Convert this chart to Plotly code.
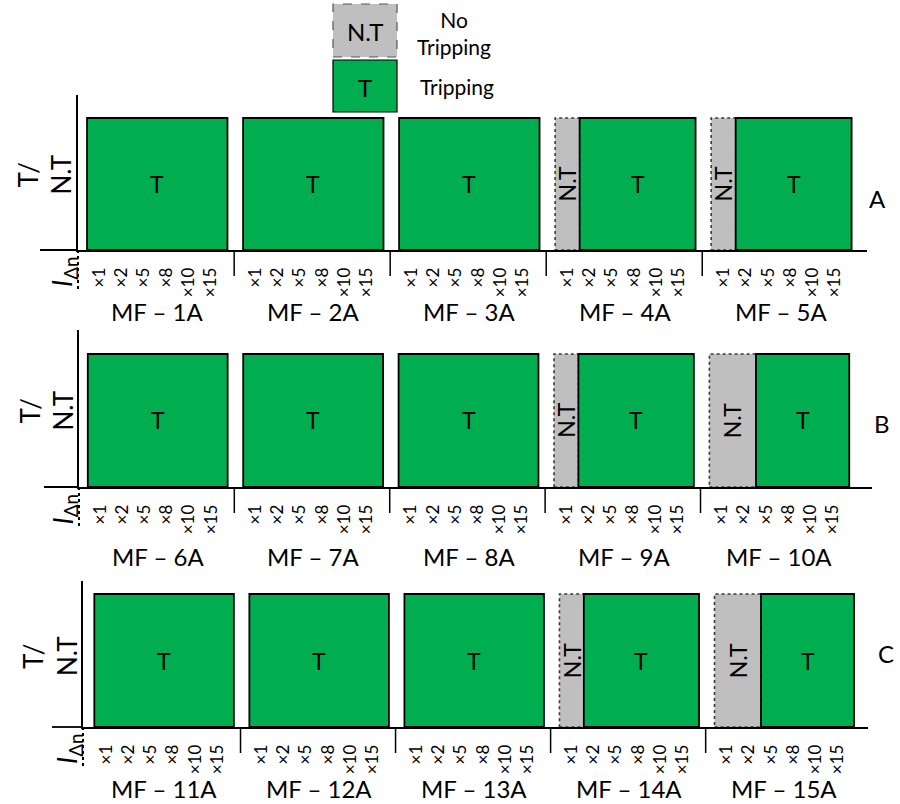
import plotly.graph_objects as go

W, H = 900, 804
FONT = "Lato"

# ---------------- data ----------------
multipliers = ["×1", "×2", "×5", "×8", "×10", "×15"]
panel_names = ["A", "B", "C"]

devices_A = ["MF – 1A", "MF – 2A", "MF – 3A", "MF – 4A", "MF – 5A"]
devices_B = ["MF – 6A", "MF – 7A", "MF – 8A", "MF – 9A", "MF – 10A"]
devices_C = ["MF – 11A", "MF – 12A", "MF – 13A", "MF – 14A", "MF – 15A"]

# trip result of each device at each multiple of the rated residual current
status_A = [
    ["T", "T", "T", "T", "T", "T"],
    ["T", "T", "T", "T", "T", "T"],
    ["T", "T", "T", "T", "T", "T"],
    ["N.T", "T", "T", "T", "T", "T"],
    ["N.T", "T", "T", "T", "T", "T"],
]
status_B = [
    ["T", "T", "T", "T", "T", "T"],
    ["T", "T", "T", "T", "T", "T"],
    ["T", "T", "T", "T", "T", "T"],
    ["N.T", "T", "T", "T", "T", "T"],
    ["N.T", "N.T", "T", "T", "T", "T"],
]
status_C = [
    ["T", "T", "T", "T", "T", "T"],
    ["T", "T", "T", "T", "T", "T"],
    ["T", "T", "T", "T", "T", "T"],
    ["N.T", "T", "T", "T", "T", "T"],
    ["N.T", "N.T", "T", "T", "T", "T"],
]

devices = [devices_A, devices_B, devices_C]
statuses = [status_A, status_B, status_C]

# ---------------- styling / geometry (pixels) ----------------
GREEN = "#00AE50"
GREY = "#BFBFBF"
SLOTS_PER_GROUP = 7  # six multipliers plus one gap

geom = [
    dict(scale=22.29, origin=99.3, left=78, right=867, base=250, top=95,
         bartop=118, ext_left=40, dot_bottom=290, label_y=311, letter=(877, 199)),
    dict(scale=22.2, origin=100.0, left=79, right=872, base=487, top=330,
         bartop=354, ext_left=44, dot_bottom=528, label_y=556, letter=(882, 423)),
    dict(scale=22.15, origin=106.5, left=83, right=868, base=727, top=581,
         bartop=594, ext_left=52, dot_bottom=767, label_y=788, letter=(886, 653)),
]


def px(x):
    return x / W


def py(y):
    return 1 - y / H


def runs(seq):
    """Consecutive runs of equal status: (status, first index, last index)."""
    out = []
    start = 0
    for i in range(1, len(seq) + 1):
        if i == len(seq) or seq[i] != seq[start]:
            out.append((seq[start], start, i - 1))
            start = i
    return out


def label(x, y, text, size, xref="paper", yref="paper", angle=0, **kw):
    return dict(x=x, y=y, xref=xref, yref=yref, text=text, showarrow=False,
                xanchor="center", yanchor="middle", textangle=angle,
                font=dict(family=FONT, size=size, color="#000000"), **kw)


fig = go.Figure()
annotations = []
shapes = []

for p, name in enumerate(panel_names):
    g = geom[p]
    xa = "x" if p == 0 else f"x{p + 1}"
    ya = "y" if p == 0 else f"y{p + 1}"
    xkey = "xaxis" if p == 0 else f"xaxis{p + 1}"
    ykey = "yaxis" if p == 0 else f"yaxis{p + 1}"
    n = len(multipliers)

    tickvals, ticktext = [], []
    for gi, (dev, st) in enumerate(zip(devices[p], statuses[p])):
        g0 = gi * SLOTS_PER_GROUP
        for k, m in enumerate(multipliers):
            tickvals.append(g0 + k)
            ticktext.append(m)

        # draw non-tripping spans first, tripping spans on top
        blocks = runs(st)
        ordered = [b for b in blocks if b[0] == "N.T"] + [b for b in blocks if b[0] == "T"]
        for state, k0, k1 in ordered:
            x0 = g0 + (k0 - 0.55 if k0 == 0 else k0 - 0.45)
            x1 = g0 + (k1 + 0.75 if k1 == n - 1 else k1 + 0.55)
            if state == "T":
                fill, lc, dash, lw = GREEN, "#000000", "solid", 1.8
            else:
                fill, lc, dash, lw = GREY, "#3a3a3a", "dot", 1.6
            fig.add_trace(go.Scatter(
                x=[x0, x1, x1, x0, x0], y=[0, 0, 1, 1, 0],
                mode="lines", fill="toself", fillcolor=fill,
                line=dict(color=lc, width=lw, dash=dash),
                xaxis=xa, yaxis=ya, hoverinfo="skip", showlegend=False,
            ))
            annotations.append(label((x0 + x1) / 2, 0.5, state, 23, xref=xa,
                                     yref=ya, angle=0 if state == "T" else -90))

        # device name under its group
        annotations.append(label(g0 + 2.6, py(g["label_y"]), dev, 24, xref=xa))
        # short separator between groups
        if gi > 0:
            shapes.append(dict(
                type="line", xref=xa, yref="paper",
                x0=g0 - 0.95, x1=g0 - 0.95,
                y0=py(g["base"]), y1=py(g["base"] + 26),
                line=dict(color="#000000", width=1.5),
            ))

    ymax = (g["base"] - g["top"]) / (g["base"] - g["bartop"])
    fig.update_layout({
        xkey: dict(
            domain=[px(g["left"]), px(g["right"])],
            range=[(g["left"] - g["origin"]) / g["scale"],
                   (g["right"] - g["origin"]) / g["scale"]],
            anchor=ya, showline=True, linecolor="#000000", linewidth=1.8,
            tickmode="array", tickvals=tickvals, ticktext=ticktext,
            tickangle=-90, ticks="outside", ticklen=9,
            tickcolor="rgba(0,0,0,0)",
            tickfont=dict(family=FONT, size=17, color="#000000"),
            showgrid=False, zeroline=False, fixedrange=True,
        ),
        ykey: dict(
            domain=[py(g["base"]), py(g["top"])],
            range=[0, ymax], anchor=xa,
            showline=True, linecolor="#000000", linewidth=1.8,
            showticklabels=False, ticks="", showgrid=False, zeroline=False,
            fixedrange=True,
        ),
    })

    # baseline extended to the left under the axis labels
    shapes.append(dict(type="line", xref="paper", yref="paper",
                       x0=px(g["ext_left"]), x1=px(g["left"]),
                       y0=py(g["base"]), y1=py(g["base"]),
                       line=dict(color="#000000", width=1.8)))
    # dotted continuation of the value axis below the baseline
    shapes.append(dict(type="line", xref="paper", yref="paper",
                       x0=px(g["left"]), x1=px(g["left"]),
                       y0=py(g["base"]), y1=py(g["dot_bottom"]),
                       line=dict(color="#000000", width=2, dash="dot")))

    # axis titles
    annotations.append(label(px(g["left"] - 33), py((g["base"] + g["top"]) / 2 + 2),
                             "T/<br>N.T", 26, angle=-90, align="center"))
    annotations.append(label(px(g["left"] - 15), py((g["base"] + g["dot_bottom"]) / 2 + 2),
                             "<i>I</i><sub>Δn</sub>", 27, angle=-90))
    # panel letter
    lx, ly = g["letter"]
    annotations.append(label(px(lx), py(ly), name, 24))

# ---------------- key at the top ----------------
shapes.append(dict(type="rect", xref="paper", yref="paper",
                   x0=px(333), x1=px(397), y0=py(57), y1=py(4),
                   fillcolor=GREY, line=dict(color="#555555", width=1.2, dash="dash")))
shapes.append(dict(type="rect", xref="paper", yref="paper",
                   x0=px(333), x1=px(397), y0=py(112), y1=py(60),
                   fillcolor=GREEN, line=dict(color="#000000", width=1.2)))
annotations += [
    label(px(365), py(31), "N.T", 24),
    label(px(365), py(87), "T", 24),
    label(px(454), py(33), "No<br>Tripping", 21, align="center"),
    label(px(457), py(86), "Tripping", 21),
]

fig.update_layout(
    width=W, height=H,
    margin=dict(l=0, r=0, t=0, b=0),
    paper_bgcolor="#ffffff", plot_bgcolor="#ffffff",
    showlegend=False,
    annotations=annotations, shapes=shapes,
)

fig.write_html("out.html")
